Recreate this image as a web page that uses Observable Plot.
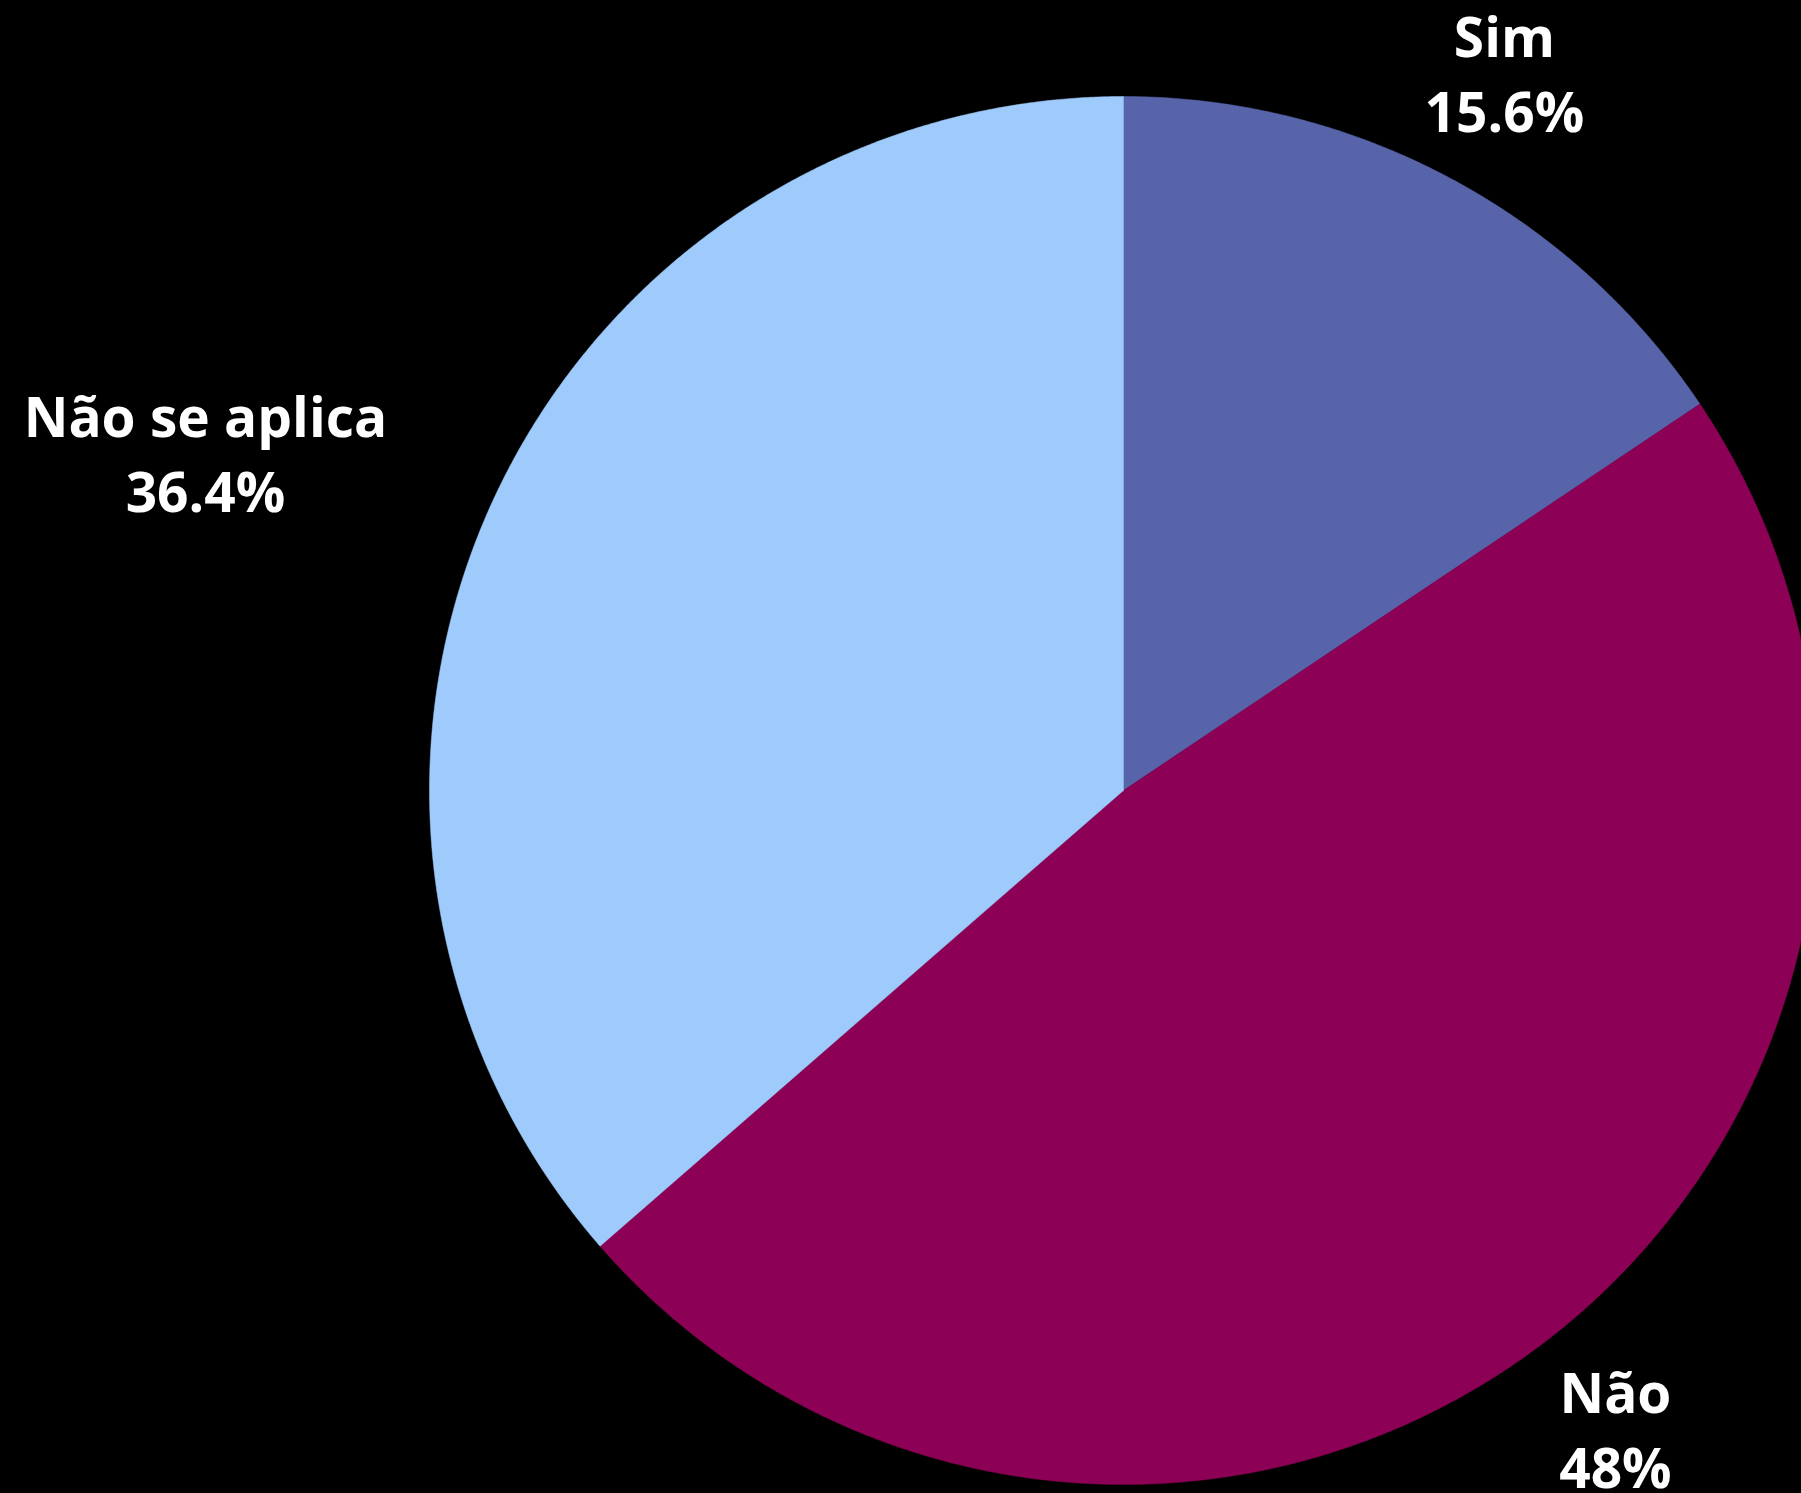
<!DOCTYPE html>
<html>
<head>
<meta charset="utf-8">
<script src="https://cdn.jsdelivr.net/npm/d3@7"></script>
<script src="https://cdn.jsdelivr.net/npm/@observablehq/plot@0.6"></script>
<style>
  html, body { margin: 0; padding: 0; background: #000; overflow: hidden; }
  #chart svg { display: block; }
</style>
</head>
<body>
<div id="chart"></div>
<script>
// ---- data ----
const categories = ["Sim", "Não", "Não se aplica"];
const values = [15.6, 48.0, 36.4];

// ---- styling ----
const palette = ["#5864AA", "#8C0055", "#9ECBFB"];
const W = 1801, H = 1493;
const cx = 1123, cy = 790, R = 694;

// slice angles (clockwise from 12 o'clock)
const total = d3.sum(values);
let acc = 0;
const slices = categories.map((c, i) => {
  const a0 = acc / total * 2 * Math.PI;
  acc += values[i];
  const a1 = acc / total * 2 * Math.PI;
  return {category: c, value: values[i], a0, a1, mid: (a0 + a1) / 2};
});

// polygon outline of each wedge (geometry only)
const wedgePts = [];
for (const s of slices) {
  wedgePts.push({category: s.category, x: 0, y: 0});
  const n = Math.max(2, Math.ceil((s.a1 - s.a0) / (Math.PI / 720)));
  for (let k = 0; k <= n; k++) {
    const t = s.a0 + (s.a1 - s.a0) * k / n;
    wedgePts.push({category: s.category, x: Math.sin(t), y: Math.cos(t)});
  }
  wedgePts.push({category: s.category, x: 0, y: 0});
}

// label placement (outside end); one label shifted like the original
const labelR = 1.166;
const labelOverride = {"Não se aplica": {angle: 289.96 * Math.PI / 180, r: 1.4074}};
const labels = slices.map(s => {
  const o = labelOverride[s.category] || {angle: s.mid, r: labelR};
  return {
    category: s.category,
    pct: `${+s.value.toFixed(1)}%`,
    x: o.r * Math.sin(o.angle),
    y: o.r * Math.cos(o.angle)
  };
});

const textStyle = {
  fill: "white",
  fontFamily: "Open Sans",
  fontWeight: "bold",
  fontSize: 55,
  textAnchor: "middle",
  lineAnchor: "middle"
};

const chart = Plot.plot({
  width: W,
  height: H,
  margin: 0,
  style: {background: "black", fontFamily: "Open Sans"},
  x: {type: "linear", domain: [-1, 1], range: [cx - R, cx + R], axis: null},
  y: {type: "linear", domain: [-1, 1], range: [cy + R, cy - R], axis: null},
  color: {domain: categories, range: palette},
  marks: [
    Plot.line(wedgePts, {
      x: "x", y: "y", z: "category",
      fill: "category", stroke: "category", strokeWidth: 0.5,
      curve: "linear", clip: true
    }),
    Plot.text(labels, {x: "x", y: "y", text: "category", dy: -37.5, ...textStyle}),
    Plot.text(labels, {x: "x", y: "y", text: "pct", dy: 37.5, ...textStyle})
  ]
});

document.getElementById("chart").appendChild(chart);
</script>
</body>
</html>
